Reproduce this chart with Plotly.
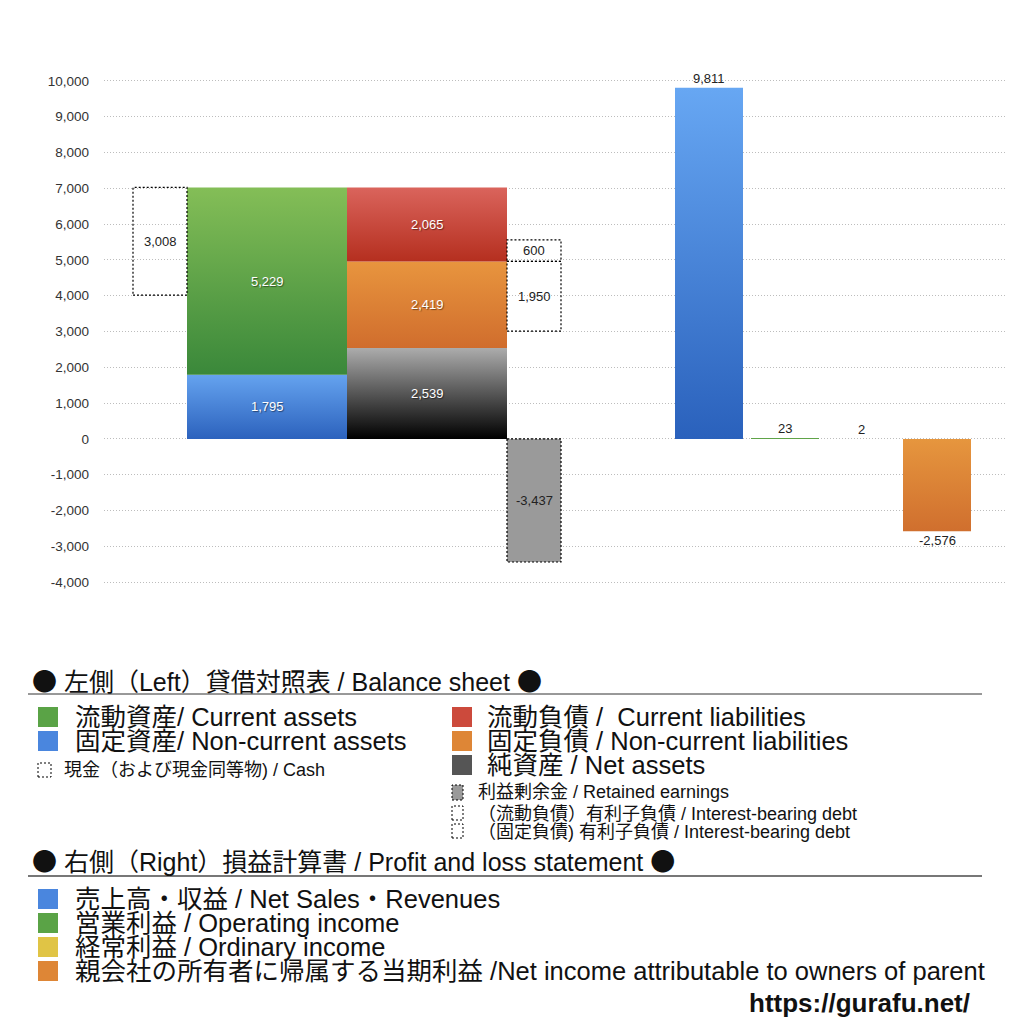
import plotly.graph_objects as go

# balance sheet (left side)
current_assets = 5229
noncurrent_assets = 1795
cash = 3008
current_liabilities = 2065
noncurrent_liabilities = 2419
net_assets = 2539
retained_earnings = -3437
ib_debt_current = 600
ib_debt_noncurrent = 1950

# profit and loss (right side)
pl_names = ["売上高・収益", "営業利益", "経常利益", "親会社の所有者に帰属する当期利益"]
pl_values = [9811, 23, 2, -2576]

y_ticks = list(range(-4000, 10001, 1000))
y_ticktext = [f"{v:,}" for v in y_ticks]

# slot centers / widths along a plain numeric x axis
X_CASH, W_SIDE = 56, 54
X_ASSETS, X_LIAB, W_MAIN = 163, 323, 160
X_DEBT = 430
X_PL = [605, 681, 757, 833]
W_PL = 68

FONT = "Liberation Sans, Noto Sans CJK JP"
DOT = '<span style="font-family:Noto Sans CJK JP">●</span>'

fig = go.Figure()


def rect(xc, w, base, val, colors=None, fill=None, dash=None):
    x0, x1 = xc - w / 2, xc + w / 2
    y0, y1 = base, base + val
    tr = dict(x=[x0, x1, x1, x0, x0], y=[y0, y0, y1, y1, y0], mode="lines",
              hoverinfo="skip", showlegend=False)
    if dash:
        tr["line"] = dict(color="black", width=1.2, dash=dash)
    else:
        tr["line"] = dict(width=0)
    if colors:
        tr["fill"] = "toself"
        tr["fillgradient"] = dict(type="vertical", colorscale=[[0, colors[0]], [1, colors[1]]])
    elif fill:
        tr["fill"] = "toself"
        tr["fillcolor"] = fill
    fig.add_trace(go.Scatter(**tr))


def label(x, y, v, color="white", ya="middle", size=13):
    fig.add_annotation(x=x, y=y, text=f"{v:,}", showarrow=False, yanchor=ya,
                       font=dict(color=color, size=size, family=FONT,
                                 shadow="1px 1px 1px rgba(0,0,0,0.45)" if color == "white" else "none"))


# assets column
rect(X_ASSETS, W_MAIN, 0, noncurrent_assets, colors=("#2c62bd", "#65a3ef"))
rect(X_ASSETS, W_MAIN, noncurrent_assets, current_assets, colors=("#3a883a", "#84be57"))
label(X_ASSETS, noncurrent_assets / 2, noncurrent_assets)
label(X_ASSETS, noncurrent_assets + current_assets / 2, current_assets)
total_assets = noncurrent_assets + current_assets

# cash dashed box
rect(X_CASH, W_SIDE, total_assets - cash, cash, dash="2px,2px")
label(X_CASH, total_assets - cash / 2, cash, color="#222")

# liabilities + net assets column
rect(X_LIAB, W_MAIN, 0, net_assets, colors=("#000000", "#acacac"))
rect(X_LIAB, W_MAIN, net_assets, noncurrent_liabilities, colors=("#d06d2d", "#e8953e"))
top_ncl = net_assets + noncurrent_liabilities
rect(X_LIAB, W_MAIN, top_ncl, current_liabilities, colors=("#b52f1f", "#da645c"))
label(X_LIAB, net_assets / 2, net_assets)
label(X_LIAB, net_assets + noncurrent_liabilities / 2, noncurrent_liabilities)
label(X_LIAB, top_ncl + current_liabilities / 2, current_liabilities)

# interest-bearing debt boxes and retained earnings
rect(X_DEBT, W_SIDE, top_ncl - ib_debt_noncurrent, ib_debt_noncurrent, dash="2px,2px")
rect(X_DEBT, W_SIDE, top_ncl, ib_debt_current, dash="2px,2px")
label(X_DEBT, top_ncl - ib_debt_noncurrent / 2, ib_debt_noncurrent, color="#222")
label(X_DEBT, top_ncl + ib_debt_current / 2, ib_debt_current, color="#222")
rect(X_DEBT, W_SIDE, 0, retained_earnings, fill="#9a9a9a", dash="2px,2px")
label(X_DEBT, retained_earnings / 2, retained_earnings, color="#222")

# profit and loss bars
pl_colors = [("#2a61bc", "#67a7f3"), ("#3a883a", "#84be57"),
             ("#c9a63a", "#f0d94c"), ("#d06f2e", "#e6963e")]
for xc, v, c in zip(X_PL, pl_values, pl_colors):
    rect(xc, W_PL, 0, v, colors=c)
    label(xc, v, v, color="#222", ya="bottom" if v >= 0 else "top")

# ---- legend drawn below the plot ----
# plot area in figure pixels (page is offset by the 8px body margin)
L, R, T, B = 96, 999, 70, 577
OFF = 8


def px(X):
    return (X - OFF - L) / (R - L)


def py(Y):
    return (B - (Y - OFF)) / (B - T)


def text(X, Y, s, size):
    fig.add_annotation(x=px(X), y=py(Y), xref="paper", yref="paper", text=s,
                       showarrow=False, xanchor="left", yanchor="middle",
                       font=dict(size=size, color="#111", family=FONT))


def swatch(X0, Y0, X1, Y1, color, dashed=False):
    fig.add_shape(type="rect", xref="paper", yref="paper",
                  x0=px(X0), x1=px(X1), y0=py(Y1), y1=py(Y0),
                  fillcolor=color,
                  line=dict(color="black", width=1, dash="2px,2px") if dashed else dict(width=0))


text(30, 680, f"{DOT} 左側（Left）貸借対照表 / Balance sheet {DOT}", 25)
fig.add_shape(type="line", xref="paper", yref="paper", x0=px(28), x1=px(982),
              y0=py(694), y1=py(694), line=dict(color="#333", width=1))

swatch(38, 707, 58, 727, "#5aa346")
text(73, 717, "流動資産/ Current assets", 25.5)
swatch(38, 731, 58, 751, "#4a86de")
text(73, 741, "固定資産/ Non-current assets", 25.5)
swatch(38, 763, 51, 777, "white", dashed=True)
text(62, 770, "現金（および現金同等物) / Cash", 18)

swatch(452, 707, 472, 727, "#cc4a3c")
text(485, 717, "流動負債 /  Current liabilities", 25.5)
swatch(452, 731, 472, 751, "#de8636")
text(485, 741, "固定負債 / Non-current liabilities", 25.5)
swatch(452, 755, 472, 775, "#555555")
text(485, 765, "純資産 / Net assets", 25.5)
swatch(452, 785, 463, 800, "#9a9a9a", dashed=True)
text(476, 792, "利益剰余金 / Retained earnings", 18)
swatch(452, 806, 463, 820, "white", dashed=True)
text(476, 814, "（流動負債）有利子負債 / Interest-bearing debt", 18)
swatch(452, 824, 463, 838, "white", dashed=True)
text(476, 832, "（固定負債) 有利子負債 / Interest-bearing debt", 18)

text(30, 860, f"{DOT} 右側（Right）損益計算書 / Profit and loss statement {DOT}", 25)
fig.add_shape(type="line", xref="paper", yref="paper", x0=px(28), x1=px(982),
              y0=py(876), y1=py(876), line=dict(color="#777", width=2))

pl_legend = ["売上高・収益 / Net Sales・Revenues", "営業利益 / Operating income",
             "経常利益 / Ordinary income",
             "親会社の所有者に帰属する当期利益 /Net income attributable to owners of parent"]
pl_swatch = ["#4a86de", "#5aa346", "#e0c445", "#de8636"]
for i, (s, c) in enumerate(zip(pl_legend, pl_swatch)):
    yc = 899 + 24 * i
    swatch(38, yc - 10, 58, yc + 10, c)
    text(73, yc, s, 25.5)

fig.add_annotation(x=px(972), y=py(1003), xref="paper", yref="paper",
                   text="<b>https://gurafu.net/</b>", showarrow=False,
                   xanchor="right", yanchor="middle",
                   font=dict(size=26, color="#111", family=FONT))

fig.update_layout(
    width=1024, height=1024,
    margin=dict(l=L, r=1024 - R, t=T, b=1024 - B),
    plot_bgcolor="white", paper_bgcolor="white",
    showlegend=False,
    xaxis=dict(range=[0, R - L], visible=False, fixedrange=True),
    yaxis=dict(range=[-4080, 10080], tickvals=y_ticks, ticktext=y_ticktext,
               showgrid=True, gridcolor="#bdbdbd", griddash="1px,2px", gridwidth=1,
               zeroline=False, showline=False, ticks="", ticklabelstandoff=14,
               tickfont=dict(size=13.5, color="#333", family=FONT)),
)

fig.write_html("out.html")
